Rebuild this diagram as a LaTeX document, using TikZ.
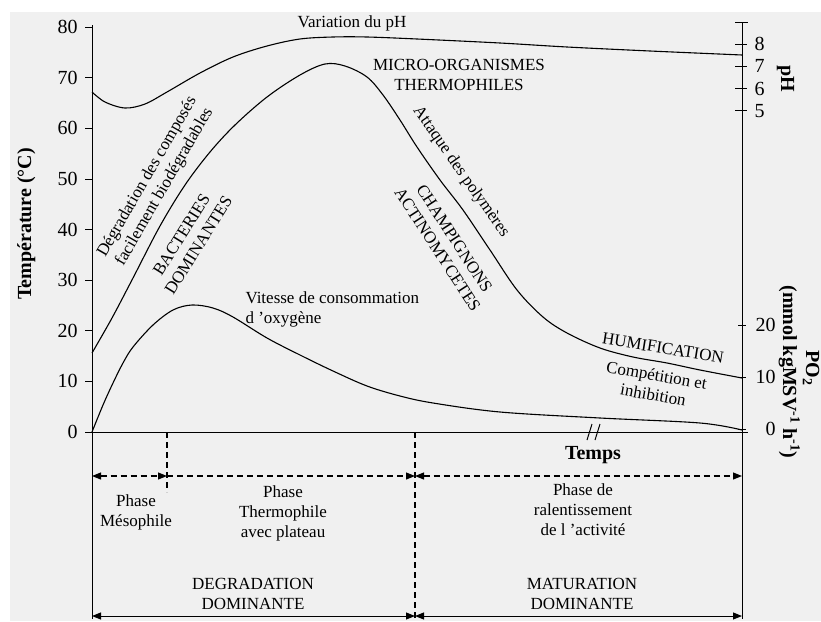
\documentclass[tikz,border=0pt]{standalone}
\usepackage{fontspec}
\setmainfont{Liberation Serif}
\usetikzlibrary{arrows.meta}

\begin{document}
\begin{tikzpicture}[
        x=1pt, y=-1pt,
        line width=1pt,
        every node/.style={inner sep=0pt, align=center, font=\fontsize{17}{20}\selectfont},
        axistitle/.style={font=\fontsize{20}{22}\selectfont\bfseries},
        ticknum/.style={font=\fontsize{20}{22}\selectfont},
        datacurve/.style={line width=1.1pt},
        phasearrow/.style={dash pattern=on 6pt off 4pt, line width=1.1pt},
        >={Triangle[length=9pt, width=7pt]}]
        \useasboundingbox (0,0) rectangle (821,621);
        % paper
        \fill[black!6] (10,12) rectangle (821,621);

        % AXES
        \coordinate (O) at (92,432);
        \coordinate (Ltop) at (92,25);
        \coordinate (Lbot) at (92,619);
        \coordinate (R0) at (742,432);
        \coordinate (Rtop) at (742,22);
        \coordinate (Rbot) at (742,619);
        \coordinate (Rend) at (748,432);
        \draw (Ltop) -- (Lbot);
        \draw (Rtop) -- (Rbot);
        \draw (O) -- (Rend);
        \draw (735,22) -- (748,22);
        % break on the time axis
        \draw (587,440) -- (592,424);
        \draw (595,440) -- (600,424);
        % temperature ticks
        \foreach \t in {0,10,...,80} {
            \draw (85,{432-5.06*\t}) -- (92,{432-5.06*\t});
            \node[ticknum, anchor=east] (T\t) at (78,{432-5.06*\t}) {\t};
        }
        % pH ticks
        \foreach \p in {5,...,8} {
            \draw (735,{44+(8-\p)*22.3}) -- (747,{44+(8-\p)*22.3});
            \node[ticknum, anchor=west] (pH\p) at (754,{44+(8-\p)*22.3}) {\p};
        }
        % pO2 ticks
        \foreach \v in {0,10,20} {
            \draw (738,{429-5.2*\v}) -- (746,{429-5.2*\v});
            \node[ticknum, anchor=east] (po\v) at (776,{429-5.2*\v}) {\v};
        }
        % axis titles
        \node[axistitle, rotate=90, anchor=base] (ytitle) at (31,224) {Température (°C)};
        \node[axistitle, rotate=-90, anchor=base] (phtitle) at (781,79) {pH};
        \node[axistitle, rotate=-90, anchor=base] (unit) at (783,372)
            {(mmol kgMSV\textsuperscript{-1} h\textsuperscript{-1})};
        \node[axistitle, rotate=-90, anchor=base] (potitle) at (806,368) {PO\textsubscript{2}};
        \node[axistitle] (temps) at (593,455) {Temps};

        % CURVES
        % pH
        \draw[datacurve] plot[smooth, tension=0.55] coordinates {
            (92,92) (105,102) (125,108) (145,104) (167,92) (200,73) (233,57)
            (267,46) (300,39) (333,37) (367,37) (417,39) (500,43) (567,47)
            (650,51) (742,55)};
        % temperature
        \draw[datacurve] plot[smooth, tension=0.55] coordinates {
            (92,353) (112,318) (133,278) (160,226) (185,185) (210,152) (235,125)
            (267,97) (300,75) (325,64) (345,66) (367,77) (383,95) (400,120)
            (417,147) (440,180) (463,210) (490,250) (517,290) (543,317)
            (567,333) (600,348) (633,357) (667,363) (700,370) (742,378)};
        % oxygen
        \draw[datacurve] plot[smooth, tension=0.55] coordinates {
            (92,432) (103,405) (113,383) (123,363) (133,347) (153,325)
            (173,310) (192,305) (213,308) (233,317) (267,338) (300,355)
            (333,371) (367,386) (400,396) (433,403) (500,412) (600,418)
            (700,423) (742,430)};

        % LABELS
        \node (varph) at (352,23) {Variation du pH};
        \node (micro) at (459,75) {MICRO-ORGANISMES\\THERMOPHILES};
        \node[rotate=60] (degcomp) at (156,182)
            {Dégradation des composés\\facilement biodégradables};
        \node[rotate=58] (bact) at (190,240) {BACTERIES\\DOMINANTES};
        \node[rotate=-55] (attaque) at (461,172) {Attaque des polymères};
        \node[rotate=-57] (champ) at (446,244) {CHAMPIGNONS\\ACTINOMYCETES};
        \node[align=left, anchor=west] (vitesse) at (245,309)
            {Vitesse de consommation\\d 'oxygène};
        \node[rotate=-9] (humif) at (663,348) {HUMIFICATION};
        \node[rotate=-10] (compet) at (655,385) {Compétition et\\inhibition};

        % PHASES
        \coordinate (m1) at (167,432);
        \coordinate (m2) at (167,492);
        \coordinate (d1) at (415,432);
        \coordinate (d2) at (415,619);
        \coordinate (a0) at (92,476);
        \coordinate (a1) at (167,476);
        \coordinate (a2) at (415,476);
        \coordinate (a3) at (742,476);
        \coordinate (b0) at (92,616);
        \coordinate (b1) at (415,616);
        \coordinate (b2) at (742,616);
        \draw[phasearrow] (m1) -- (m2);
        \draw[phasearrow] (d1) -- (d2);
        \draw[phasearrow, <->] (a0) -- (a1);
        \draw[phasearrow, ->] (a1) -- (a2);
        \draw[phasearrow, <->] (a2) -- (a3);
        \draw[<->] (b0) -- (b1);
        \draw[<->] (b1) -- (b2);
        \node (meso) at (136,512) {Phase\\Mésophile};
        \node (thermo) at (283,513) {Phase\\Thermophile\\avec plateau};
        \node (ralent) at (583,510) {Phase de\\ralentissement\\de l 'activité};
        \node (degdom) at (253,594) {DEGRADATION\\DOMINANTE};
        \node (matdom) at (582,594) {MATURATION\\DOMINANTE};
\end{tikzpicture}
\end{document}
